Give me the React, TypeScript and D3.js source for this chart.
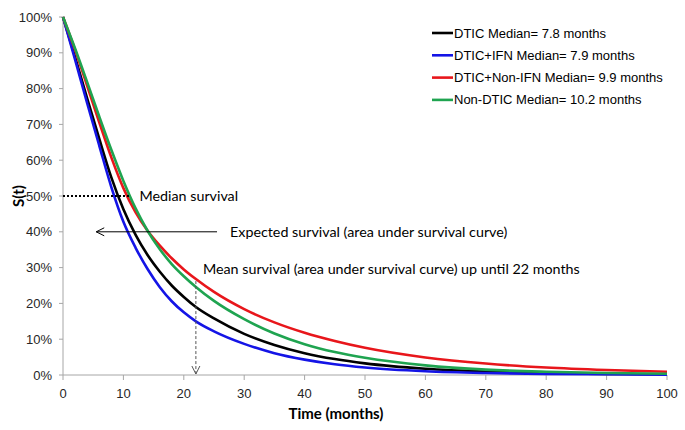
import React from "react";
import * as d3 from "d3";

const WIDTH = 685;
const HEIGHT = 430;
const MARGIN = { top: 17, right: 18, bottom: 55, left: 63 };

const months = [0, 2, 4, 6, 8, 10, 12, 14, 16, 18, 20, 22, 25, 30, 35, 40, 45, 50, 60, 70, 80, 90, 100];

const dticValues = [100, 88.8, 77.3, 66.0, 55.2, 46.3, 39.2, 33.5, 28.9, 25.0, 21.8, 19.0, 15.8, 11.5, 8.4, 6.1, 4.45, 3.25, 1.75, 0.95, 0.5, 0.3, 0.2];
const ifnValues = [100, 88.1, 75.9, 64.1, 52.5, 42.8, 35.6, 29.6, 24.6, 20.6, 17.5, 15.0, 12.2, 8.7, 6.1, 4.3, 3.0, 2.1, 1.05, 0.55, 0.3, 0.2, 0.1];
const nonIfnValues = [100, 90.8, 80.8, 70.6, 60.8, 52.2, 45.5, 40.3, 36.2, 32.6, 29.5, 26.8, 23.2, 18.4, 14.7, 11.8, 9.5, 7.6, 4.9, 3.2, 2.1, 1.4, 0.9];
const nonDticValues = [100, 91.2, 81.8, 72.2, 62.9, 54.2, 46.6, 40.3, 35.2, 31.0, 27.6, 24.6, 20.7, 15.6, 11.6, 8.6, 6.4, 4.8, 2.7, 1.5, 0.9, 0.55, 0.35];

const seriesNames = [
  "DTIC Median= 7.8 months",
  "DTIC+IFN Median= 7.9 months",
  "DTIC+Non-IFN Median= 9.9 months",
  "Non-DTIC Median= 10.2 months",
];
const seriesColors = ["#000000", "#1414e6", "#e8161b", "#1fa450"];
const seriesValues = [dticValues, ifnValues, nonIfnValues, nonDticValues];

const xTicks = [0, 10, 20, 30, 40, 50, 60, 70, 80, 90, 100];
const yTicks = [0, 10, 20, 30, 40, 50, 60, 70, 80, 90, 100];

const medianLevel = 50;
const medianLineEnd = 11;
const expectedLevel = 40;
const expectedArrow = [5.5, 25.5];
const meanMonths = 22;

const ANNOT_FONT = "Lato, 'Open Sans', sans-serif";
const TICK_FONT = "'Liberation Sans', Arial, sans-serif";
const AXIS_GRAY = "#a6a6a6";

export default function App() {
  const boundsWidth = WIDTH - MARGIN.left - MARGIN.right;
  const boundsHeight = HEIGHT - MARGIN.top - MARGIN.bottom;

  const xScale = d3.scaleLinear().domain([0, 100]).range([0, boundsWidth]);
  const yScale = d3.scaleLinear().domain([0, 100]).range([boundsHeight, 0]);

  const lineGen = d3
    .line<[number, number]>()
    .x((d) => xScale(d[0]))
    .y((d) => yScale(d[1]))
    .curve(d3.curveMonotoneX);

  const meanX = xScale(meanMonths);
  const meanTop = yScale(nonIfnValues[months.indexOf(meanMonths)]) + 2;

  return (
    <svg
      width={WIDTH}
      height={HEIGHT}
      style={{ position: "absolute", left: 0, top: 0, background: "#fff" }}
    >
      <g transform={`translate(${MARGIN.left},${MARGIN.top})`}>
        {/* y axis */}
        <line x1={0} x2={0} y1={0} y2={boundsHeight} stroke={AXIS_GRAY} />
        {yTicks.map((t) => (
          <g key={"y" + t} transform={`translate(0,${yScale(t)})`}>
            <line x1={-4} x2={0} stroke={AXIS_GRAY} />
            <text
              x={-11}
              dy="0.35em"
              textAnchor="end"
              fontFamily={TICK_FONT}
              fontSize={13}
              fill="#262626"
            >
              {t + "%"}
            </text>
          </g>
        ))}
        {/* x axis */}
        <line x1={0} x2={boundsWidth} y1={boundsHeight} y2={boundsHeight} stroke={AXIS_GRAY} />
        {xTicks.map((t) => (
          <g key={"x" + t} transform={`translate(${xScale(t)},${boundsHeight})`}>
            <line y1={0} y2={5} stroke={AXIS_GRAY} />
            <text
              y={18}
              dy="0.35em"
              textAnchor="middle"
              fontFamily={TICK_FONT}
              fontSize={13}
              fill="#262626"
            >
              {t}
            </text>
          </g>
        ))}

        {/* survival curves */}
        {seriesValues.map((vals, i) => (
          <path
            key={seriesNames[i]}
            d={lineGen(months.map((m, j) => [m, vals[j]] as [number, number])) || ""}
            fill="none"
            stroke={seriesColors[i]}
            strokeWidth={2.6}
          />
        ))}

        {/* median survival marker */}
        <line
          x1={0}
          x2={xScale(medianLineEnd)}
          y1={yScale(medianLevel)}
          y2={yScale(medianLevel)}
          stroke="#000"
          strokeWidth={2}
          strokeDasharray="2,2"
        />
        <text
          x={xScale(medianLineEnd) + 10}
          y={yScale(medianLevel)}
          dy="0.35em"
          fontFamily={ANNOT_FONT}
          fontSize={14.3}
          fill="#000"
        >
          Median survival
        </text>

        {/* expected survival arrow */}
        <line
          x1={xScale(expectedArrow[0])}
          x2={xScale(expectedArrow[1])}
          y1={yScale(expectedLevel)}
          y2={yScale(expectedLevel)}
          stroke="#000"
          strokeWidth={1}
        />
        <path
          d={`M${xScale(expectedArrow[0]) + 8},${yScale(expectedLevel) - 4} L${xScale(expectedArrow[0])},${yScale(expectedLevel)} L${xScale(expectedArrow[0]) + 8},${yScale(expectedLevel) + 4}`}
          fill="none"
          stroke="#000"
          strokeWidth={1}
        />
        <text
          x={xScale(expectedArrow[1]) + 13}
          y={yScale(expectedLevel)}
          dy="0.35em"
          fontFamily={ANNOT_FONT}
          fontSize={14.3}
          fill="#000"
        >
          Expected survival (area under survival curve)
        </text>

        {/* mean survival up to 22 months */}
        <line
          x1={meanX}
          x2={meanX}
          y1={meanTop}
          y2={boundsHeight - 1}
          stroke="#555"
          strokeWidth={1}
          strokeDasharray="3,2"
        />
        <path
          d={`M${meanX - 4},${boundsHeight - 9} L${meanX},${boundsHeight - 1} L${meanX + 4},${boundsHeight - 9}`}
          fill="none"
          stroke="#555"
          strokeWidth={1}
        />
        <text
          x={meanX + 7}
          y={yScale(29.5)}
          dy="0.35em"
          fontFamily={ANNOT_FONT}
          fontSize={14.3}
          fill="#000"
        >
          Mean survival (area under survival curve) up until 22 months
        </text>

        {/* legend */}
        {seriesNames.map((name, i) => (
          <g key={"leg" + i} transform={`translate(369,${16 + i * 22.3})`}>
            <line x1={0} x2={21} stroke={seriesColors[i]} strokeWidth={2.6} />
            <text
              x={22}
              dy="0.35em"
              fontFamily={TICK_FONT}
              fontSize={13}
              fill="#000"
            >
              {name}
            </text>
          </g>
        ))}

        {/* axis titles */}
        <text
          x={273}
          y={boundsHeight + 39}
          dy="0.35em"
          textAnchor="middle"
          fontFamily={ANNOT_FONT}
          fontWeight="bold"
          fontSize={15}
          fill="#000"
        >
          Time (months)
        </text>
        <text
          transform={`translate(-44,${yScale(50)}) rotate(-90)`}
          dy="0.35em"
          textAnchor="middle"
          fontFamily={ANNOT_FONT}
          fontWeight="bold"
          fontSize={15}
          fill="#000"
        >
          S(t)
        </text>
      </g>
    </svg>
  );
}
